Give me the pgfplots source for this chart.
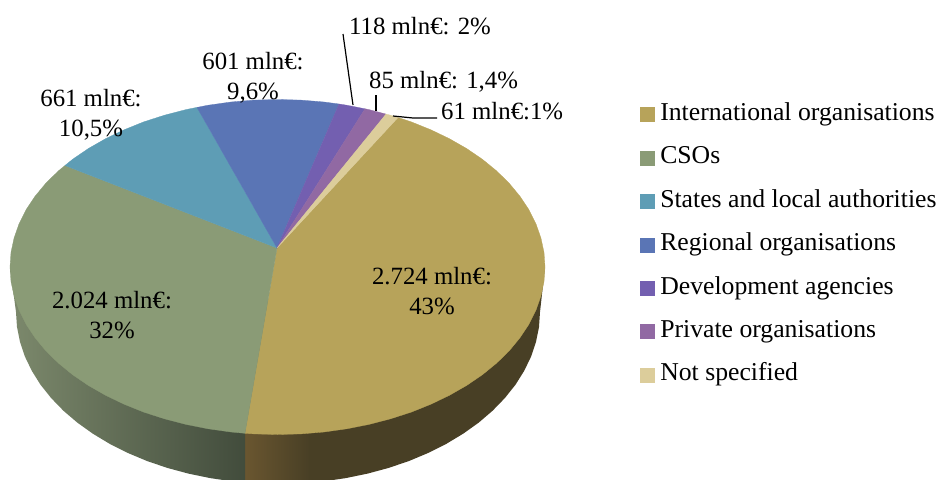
\documentclass[border=0pt]{standalone}
\usepackage{fontspec}
\setmainfont{Liberation Serif}
\usepackage{pgfplots}
\pgfplotsset{compat=1.18}
\definecolor{cIO}{HTML}{B7A35A}
\definecolor{cCSO}{HTML}{8A9B76}
\definecolor{cSLA}{HTML}{5E9DB5}
\definecolor{cRO}{HTML}{5A75B5}
\definecolor{cDA}{HTML}{735FB0}
\definecolor{cPO}{HTML}{9169A3}
\definecolor{cNS}{HTML}{DCCD9B}
\newcommand{\lbl}{\fontsize{24.8}{30}\selectfont}
\newcommand{\lgd}{\fontsize{25.7}{30}\selectfont}
\begin{document}
\begin{tikzpicture}
\path[use as bounding box] (0,0) rectangle (936pt,479pt);
\begin{axis}[
  at={(0,0)}, anchor=south west,
  scale only axis, width=936pt, height=479pt,
  xmin=0, xmax=936, ymin=0, ymax=479, y dir=reverse,
  hide axis, clip=true,
  legend cell align=left,
  legend style={at={(axis cs:640,99.5)}, anchor=north west, draw=none, fill=none,
    inner sep=0pt, outer sep=0pt, font=\lgd, row sep=13.4pt,
    nodes={inner sep=0pt, text height=21pt, text depth=9pt}},
  legend image code/.code={\fill[#1] (0pt,-7pt) rectangle (14pt,7pt);},
  /tikz/every odd column/.append style={column sep=6pt},
]
% Rim of the disc, gold part: shaded strip and plain remainder
\addplot[forget plot, draw=none, fill=none, left color={rgb,255:red,106;green,86;blue,48}, right color={rgb,255:red,72;green,63;blue,37}] coordinates {
 (245,300) (310,300) (310,482) (300.8,483.3) (278,484) (245,482.6)} -- cycle;
\addplot[forget plot, draw=none, fill={rgb,255:red,72;green,63;blue,37}] coordinates {
 (309,300) (545,267) (540,312) (539,327) (536,341.9) (531.1,356.5) (524.2,370.8) (515.5,384.7)
 (504.9,398) (492.6,410.7) (478.7,422.6) (463.3,433.6) (446.4,443.8) (428.3,452.9) (409,461)
 (388.7,467.9) (367.6,473.6) (345.8,478.1) (323.5,481.4) (309,482.5)} -- cycle;
% Rim of the disc, green part
\addplot[forget plot, draw=none, fill=none, left color={rgb,255:red,124;green,137;blue,108}, right color={rgb,255:red,66;green,76;blue,60}] coordinates {
 (245,300) (245,482.6) (232.5,481.4) (210.2,478.1) (188.4,473.6) (167.3,467.9) (147,461) (127.7,452.9)
 (109.6,443.8) (92.7,433.6) (77.3,422.6) (63.4,410.7) (51.1,398) (40.5,384.7) (31.8,370.8)
 (24.9,356.5) (20,341.9) (17,327) (16,312) (10,267)} -- cycle;
% Top face, one sector per category
\addplot[cIO, fill=cIO, line width=.3pt] coordinates {
 (277,248) (398,117.5) (411.3,121.9) (430.9,129.8) (449.4,138.7) (466.7,148.6) (482.4,159.3) (496.6,170.9)
 (509.2,183.3) (519.9,196.2) (528.9,209.7) (535.9,223.7) (540.9,237.9) (544,252.4) (545,267)
 (544,281.6) (540.9,296.1) (535.9,310.3) (528.9,324.3) (519.9,337.8) (509.2,350.8) (496.6,363.1)
 (482.4,374.7) (466.7,385.4) (449.4,395.3) (430.9,404.2) (411.3,412.1) (390.5,418.8) (369,424.4)
 (346.7,428.8) (323.9,432) (300.8,433.9) (277.5,434.5) (254.2,433.9) (245,433.3)} -- cycle;
\addlegendentry{International organisations}
\addplot[cCSO, fill=cCSO, line width=.3pt] coordinates {
 (277,248) (245,433.3) (231.1,432) (208.3,428.8) (186,424.4) (164.5,418.8) (143.7,412.1) (124.1,404.2)
 (105.6,395.3) (88.3,385.4) (72.6,374.7) (58.4,363.1) (45.8,350.8) (35.1,337.8) (26.1,324.3)
 (19.1,310.3) (14.1,296.1) (11,281.6) (10,267) (11,252.4) (14.1,237.9) (19.1,223.7) (26.1,209.7)
 (35.1,196.2) (45.8,183.3) (58.4,170.9) (65,165.5)} -- cycle;
\addlegendentry{CSOs}
\addplot[cSLA, fill=cSLA, line width=.3pt] coordinates {
 (277,248) (65,165.5) (72.6,159.3) (88.3,148.6) (105.6,138.7) (124.1,129.8) (143.7,121.9) (164.5,115.2)
 (186,109.6) (197,107.4)} -- cycle;
\addlegendentry{States and local authorities}
\addplot[cRO, fill=cRO, line width=.3pt] coordinates {
 (277,248) (197,107.4) (208.3,105.2) (231.1,102) (254.2,100.1) (277.5,99.5) (300.8,100.1) (323.9,102) (339,104)} -- cycle;
\addlegendentry{Regional organisations}
\addplot[cDA, fill=cDA, line width=.3pt] coordinates {
 (277,248) (339,104) (346.7,105.2) (365,108.8)} -- cycle;
\addlegendentry{Development agencies}
\addplot[cPO, fill=cPO, line width=.3pt] coordinates {
 (277,248) (365,108.8) (369,109.6) (386,114.1)} -- cycle;
\addlegendentry{Private organisations}
\addplot[cNS, fill=cNS, line width=.3pt] coordinates {
 (277,248) (386,114.1) (390.5,115.2) (398,117.5)} -- cycle;
\addlegendentry{Not specified}
% Leader lines of the small sectors
\addplot[forget plot, black, line width=1.2pt] coordinates {(343,34) (353,105)};
\addplot[forget plot, black, line width=1.2pt] coordinates {(376,95) (376,111)};
\addplot[forget plot, black, line width=1.2pt] coordinates {(393,116) (413,118) (437,118)};
% Data labels
\node[anchor=center, align=center, font=\lbl] at (axis cs:253,77.5) {601 mln€:\\9,6\%};
\node[anchor=center, align=center, font=\lbl] at (axis cs:91,115) {661 mln€:\\10,5\%};
\node[anchor=center, align=center, font=\lbl] at (axis cs:112,315) {2.024 mln€:\\32\%};
\node[anchor=center, align=center, font=\lbl] at (axis cs:432,291) {2.724 mln€:\\43\%};
\node[anchor=base west, inner sep=0pt, font=\lbl] at (axis cs:349,34) {118 mln€: 2\%};
\node[anchor=base west, inner sep=0pt, font=\lbl] at (axis cs:369,88) {85 mln€: 1,4\%};
\node[anchor=base west, inner sep=0pt, font=\lbl] at (axis cs:441,119) {61 mln€:1\%};
\end{axis}
\end{tikzpicture}
\end{document}
